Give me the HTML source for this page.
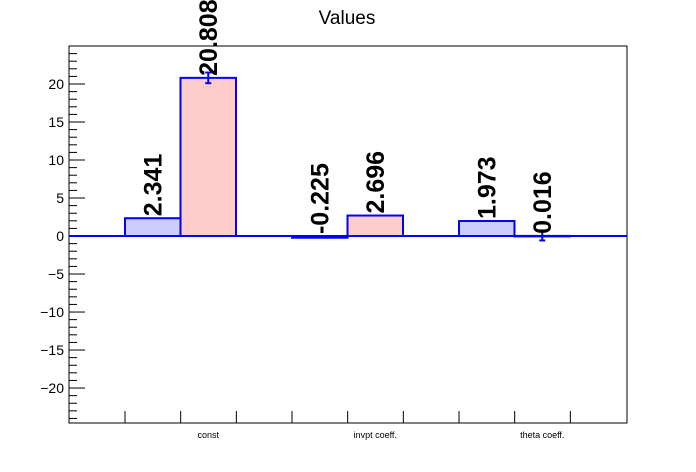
<!DOCTYPE html>
<html><head><meta charset="utf-8"><style>body{margin:0;background:#fff}svg{display:block;font-family:"Liberation Sans",sans-serif}</style></head>
<body>
<svg id="c" width="696" height="472"></svg>
<script>
const categories=["const","invpt coeff.","theta coeff."];
const seriesA=[2.341,-0.225,1.973];
const seriesB=[20.808,2.696,0.016];
const labelsA=["2.341","-0.225","1.973"];
const labelsB=["20.808","2.696","0.016"];
const errorsB=[0.7,0,0.6];
const yTicks=[-20,-15,-10,-5,0,5,10,15,20];
const ns="http://www.w3.org/2000/svg";
const svg=document.getElementById('c');
const X0=69,X1=627,Y0=46,Y1=423,ymin=-24.6,ymax=25;
const y=v=>Y1-(v-ymin)/(ymax-ymin)*(Y1-Y0);
const gx=i=>125+i*167;
const bw=55.5;
function mk(t,a,p){const e=document.createElementNS(ns,t);for(const k in a)e.setAttribute(k,a[k]);(p||svg).appendChild(e);return e;}
let e;
e=mk('text',{x:347,y:24,'text-anchor':'middle','font-size':19});e.textContent='Values';


e=mk('rect',{x:X0,y:Y0,width:X1-X0,height:Y1-Y0,fill:'none',stroke:'#000','stroke-width':1});


for(let v=-24;v<=25;v++){const maj=v%5===0;const t=mk('line',{x1:X0,x2:X0+(maj?16:8),y1:y(v),y2:y(v),stroke:'#000'});

}
yTicks.forEach(v=>{const t=mk('text',{x:64,y:y(v)+5,'text-anchor':'end','font-size':14});t.textContent=v<0?'\u2212'+(-v):v;

});
for(let i=0;i<9;i++){const xx=125+i*55.67;const t=mk('line',{x1:xx,x2:xx,y1:Y1,y2:Y1-12,stroke:'#000'});

}
categories.forEach((c,i)=>{const t=mk('text',{x:gx(i)+bw*1.5,y:438,'text-anchor':'middle','font-size':9});t.textContent=c;

});
e=mk('line',{x1:X0,x2:X1,y1:y(0),y2:y(0),stroke:'#00f','stroke-width':2});


function bar(v,x,fill,lab,err,name){
 const top=Math.min(y(v),y(0)),h=Math.abs(y(v)-y(0));
 const r=mk('rect',{x:x,y:top,width:bw,height:Math.max(h,0.5),fill:fill,stroke:'#00f','stroke-width':2});
 
 
 if(err>0){const cx=x+bw/2;const g=mk('g',{stroke:'#00f','stroke-width':2});
  
  
  mk('line',{x1:cx,x2:cx,y1:y(v+err),y2:y(v-err)},g);mk('line',{x1:cx-3,x2:cx+3,y1:y(v+err),y2:y(v+err)},g);mk('line',{x1:cx-3,x2:cx+3,y1:y(v-err),y2:y(v-err)},g);}
 const ty=Math.min(y(v),y(0))-2,tx=x+bw/2+9;
 const t=mk('text',{x:tx,y:ty,transform:`rotate(-90 ${tx} ${ty})`,'font-size':25,'font-weight':'bold'});t.textContent=lab;
 
 
}
categories.forEach((c,i)=>{bar(seriesA[i],gx(i),'#ccccff',labelsA[i],0,'bar-a-'+i);bar(seriesB[i],gx(i)+bw,'#ffcccc',labelsB[i],errorsB[i],'bar-b-'+i);});
</script>
</body></html>
